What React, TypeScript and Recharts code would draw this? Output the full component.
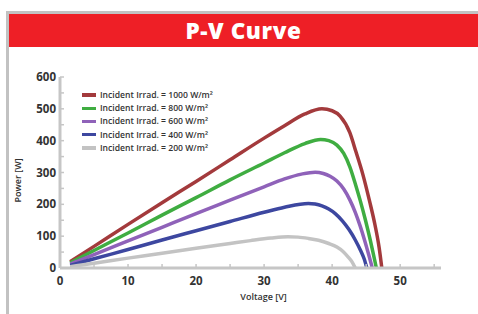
import React from 'react';
import { LineChart, Line, XAxis, YAxis } from 'recharts';

const seriesNames = [
  'Incident Irrad. = 1000 W/m²',
  'Incident Irrad. = 800 W/m²',
  'Incident Irrad. = 600 W/m²',
  'Incident Irrad. = 400 W/m²',
  'Incident Irrad. = 200 W/m²',
];
const seriesColors = ['#a33a3c', '#3fad41', '#8f62b9', '#3d47a0', '#c3c3c3'];

const v1000 = [1.5, 5, 10, 15, 20, 25, 30, 33, 36, 38.5, 40, 41.2, 42.6, 43.5, 44.5, 45.5, 46.3, 46.9, 47.3];
const p1000 = [20, 68, 137, 205, 272, 340, 408, 447, 484, 500, 494, 476, 425, 365, 295, 210, 135, 65, 0];

const v800 = [1.5, 5, 10, 15, 20, 25, 30, 33, 36, 38.3, 39.5, 40.7, 41.7, 42.6, 43.4, 44.1, 44.9, 45.6, 46.1, 46.5];
const p800 = [16, 55, 110, 166, 221, 277, 330, 362, 391, 404, 400, 386, 360, 318, 265, 214, 150, 88, 40, 0];

const v600 = [1.5, 5, 10, 15, 20, 25, 30, 33, 35.5, 37.5, 38.7, 39.7, 40.7, 41.7, 42.6, 43.4, 44.1, 44.8, 45.4, 45.9];
const p600 = [12, 42, 85, 128, 171, 213, 255, 280, 295, 301, 297, 288, 273, 248, 214, 175, 133, 85, 40, 0];

const v400 = [1.5, 5, 10, 15, 20, 25, 30, 33, 36.5, 37.5, 38.5, 39.5, 40.5, 41.5, 42.5, 43.4, 44.2, 44.7, 45.1];
const p400 = [8, 29, 58, 88, 117, 146, 175, 191, 203, 201, 195, 185, 170, 148, 120, 88, 54, 29, 0];

const v200 = [1.5, 5, 10, 15, 20, 25, 28, 31, 33.5, 35, 36.5, 38, 39.5, 40.7, 41.6, 42.3, 42.9, 43.4];
const p200 = [4, 15, 31, 46, 62, 77, 86, 94, 98, 97, 93, 87, 77, 66, 52, 36, 20, 0];

const xTicks = [0, 5, 10, 15, 20, 25, 30, 35, 40, 45, 50, 55];
const yTicks = [0, 50, 100, 150, 200, 250, 300, 350, 400, 450, 500, 550, 600];

const voltages = [v1000, v800, v600, v400, v200];
const powers = [p1000, p800, p600, p400, p200];
const seriesData = voltages.map((vs, i) => vs.map((v, j) => ({ v, p: powers[i][j] })));

const FONT = '"Open Sans", sans-serif';
const AXIS = '#c6c6c6';

const XTick = (props: any) => {
  const { x, y, payload } = props;
  const val = payload.value;
  return (
    <g>
      <line x1={x} y1={y} x2={x} y2={y - 4} stroke={AXIS} strokeWidth={1.5} />
      {val % 10 === 0 && (
        <text x={x} y={y + 17} textAnchor="middle" fontFamily={FONT} fontWeight={700} fontSize={11.5} fill="#333">
          {val}
        </text>
      )}
    </g>
  );
};

const YTick = (props: any) => {
  const { x, y, payload } = props;
  const val = payload.value;
  return (
    <g>
      <line x1={x} y1={y} x2={x + 4} y2={y} stroke={AXIS} strokeWidth={1.5} />
      {val % 100 === 0 && (
        <text x={x - 4} y={y + 4} textAnchor="end" fontFamily={FONT} fontWeight={700} fontSize={11.5} fill="#333">
          {val}
        </text>
      )}
    </g>
  );
};

export default function App() {
  return (
    <div style={{ position: 'absolute', left: 0, top: 0, width: 478, height: 314, background: '#fff', overflow: 'hidden' }}>
      <div style={{ position: 'absolute', left: 6, top: 11, width: 3, height: 303, background: '#c2c2c2' }} />
      <div style={{ position: 'absolute', left: 6, top: 11, width: 472, height: 3, background: '#c2c2c2' }} />
      <div
        style={{
          position: 'absolute',
          left: 9,
          top: 14,
          width: 469,
          height: 33,
          background: '#ee1f26',
          color: '#fff',
          fontFamily: FONT,
          fontWeight: 800,
          fontSize: 22.5,
          letterSpacing: 0.6,
          lineHeight: '33px',
          textAlign: 'center',
        }}
      >
        P-V Curve
      </div>
      <div style={{ position: 'absolute', left: 0, top: 0 }}>
        <LineChart width={478} height={314} margin={{ top: 77, right: 37, left: 0, bottom: 0 }}>
          <XAxis
            dataKey="v"
            type="number"
            domain={[0, 56]}
            ticks={xTicks}
            interval={0}
            tickSize={0}
            tickMargin={0}
            tick={<XTick />}
            height={46}
            stroke={AXIS}
            strokeWidth={3}
            allowDuplicatedCategory={false}
            label={{
              value: 'Voltage [V]',
              position: 'insideBottom',
              offset: 14,
              dx: 13,
              style: { fontFamily: FONT, fontWeight: 600, fontSize: 9, fill: '#333' },
            }}
          />
          <YAxis
            type="number"
            domain={[0, 600]}
            ticks={yTicks}
            interval={0}
            tickSize={0}
            tickMargin={0}
            tick={<YTick />}
            width={60}
            stroke={AXIS}
            strokeWidth={3}
            label={{
              value: 'Power [W]',
              angle: -90,
              position: 'insideLeft',
              offset: 18,
              dy: 30,
              style: { fontFamily: FONT, fontWeight: 600, fontSize: 9, fill: '#333' },
            }}
          />
          {seriesData.map((d, i) => (
            <Line
              key={seriesNames[i]}
              data={d}
              dataKey="p"
              name={seriesNames[i]}
              type="monotone"
              stroke={seriesColors[i]}
              strokeWidth={3.5}
              dot={false}
              activeDot={false}
              isAnimationActive={false}
            />
          ))}
        </LineChart>
      </div>
      <div style={{ position: 'absolute', left: 82, top: 88.5, fontFamily: FONT }}>
        {seriesNames.map((n, i) => (
          <div key={n} style={{ display: 'flex', alignItems: 'center', height: 13.2 }}>
            <div style={{ width: 14, height: 3.5, background: seriesColors[i], marginRight: 4 }} />
            <span style={{ fontSize: 8.6, fontWeight: 600, color: '#333', whiteSpace: 'nowrap' }}>{n}</span>
          </div>
        ))}
      </div>
    </div>
  );
}
